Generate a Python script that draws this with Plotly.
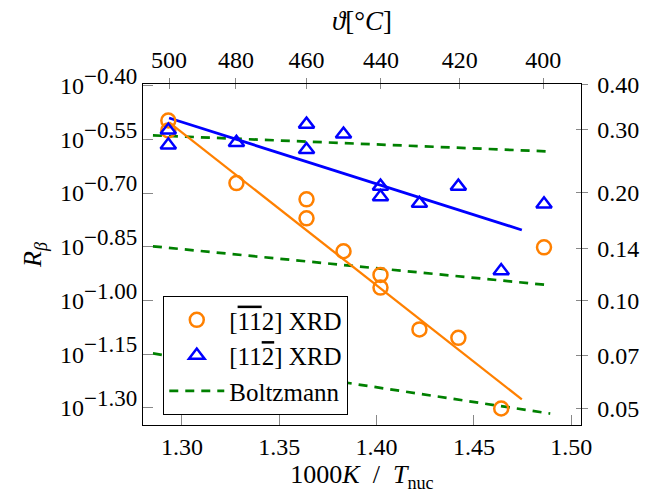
import plotly.graph_objects as go

# ---- data ----
x_orange = [1.293, 1.293, 1.328, 1.364, 1.364, 1.383, 1.402, 1.402, 1.422, 1.442, 1.464, 1.486]
r_orange = [0.318, 0.2985, 0.2127, 0.1916, 0.1695, 0.1372, 0.1178, 0.1086, 0.0830, 0.0786, 0.0499, 0.1407]

x_blue = [1.293, 1.293, 1.328, 1.364, 1.364, 1.383, 1.402, 1.402, 1.422, 1.442, 1.464, 1.486]
r_blue = [0.2988, 0.2716, 0.2761, 0.3105, 0.2636, 0.2913, 0.2084, 0.1947, 0.1866, 0.2084, 0.1210, 0.1858]

fit_x = [1.2934, 1.4746]
fit_orange = [0.3144, 0.0529]
fit_blue = [0.3233, 0.1573]

boltz_x = [1.2851, 1.4892]
boltz_1 = [0.2891, 0.2606]
boltz_2 = [0.1416, 0.1102]
boltz_3 = [0.0711, 0.0483]

x_ticks = [1.30, 1.35, 1.40, 1.45, 1.50]
x_ticktext = ["1.30", "1.35", "1.40", "1.45", "1.50"]
temp_ticks_c = [500, 480, 460, 440, 420, 400]
left_exps = [-0.40, -0.55, -0.70, -0.85, -1.00, -1.15, -1.30]
right_ticks = [0.40, 0.30, 0.20, 0.14, 0.10, 0.07, 0.05]
right_ticktext = ["0.40", "0.30", "0.20", "0.14", "0.10", "0.07", "0.05"]

ORANGE = "#ff8000"
BLUE = "#0000ff"
GREEN = "#008000"
FONT = "Liberation Serif"
FS = 24

fig = go.Figure()

for i, yb in enumerate([boltz_1, boltz_2, boltz_3]):
    fig.add_trace(go.Scatter(x=boltz_x, y=yb, mode="lines",
                             line=dict(color=GREEN, width=2.7, dash="9px,7px"),
                             name="Boltzmann", showlegend=(i == 0), legendrank=3))

fig.add_trace(go.Scatter(x=fit_x, y=fit_orange, mode="lines",
                         line=dict(color=ORANGE, width=2.3), showlegend=False))
fig.add_trace(go.Scatter(x=fit_x, y=fit_blue, mode="lines",
                         line=dict(color=BLUE, width=2.8), showlegend=False))

fig.add_trace(go.Scatter(x=x_orange, y=r_orange, mode="markers",
                         marker=dict(symbol="circle-open", size=14, color=ORANGE,
                                     line=dict(width=2.5, color=ORANGE)),
                         name='[<span style="text-decoration:overline">11</span>2] XRD',
                         legendrank=1))
fig.add_trace(go.Scatter(x=x_blue, y=r_blue, mode="markers",
                         marker=dict(symbol="triangle-up-open", size=13.5, color=BLUE,
                                     line=dict(width=2.5, color=BLUE)),
                         name='[11<span style="text-decoration:overline">2</span>] XRD',
                         legendrank=2))

# invisible copies so the secondary (top / right) axes get drawn
for xa, ya in [("x2", "y2"), ("x3", "y3")]:
    fig.add_trace(go.Scatter(x=x_blue, y=r_blue, mode="markers", xaxis=xa, yaxis=ya,
                             marker=dict(opacity=0), showlegend=False, hoverinfo="skip"))

xr = [1.28, 1.505]
yr = [-1.348, -0.3955]
temp_pos = [1000.0 / (t + 273.15) for t in temp_ticks_c]
temp_text = [str(t) for t in temp_ticks_c]
left_vals = [10 ** e for e in left_exps]
left_text = ['10<sup><span style="font-size:23px">\u2212%.2f</span></sup>' % (-e) for e in left_exps]

common = dict(showgrid=False, zeroline=False, tickcolor="#888888", tickwidth=1,
              tickfont=dict(family=FONT, size=FS, color="black"))

fig.update_layout(
    width=657, height=496,
    margin=dict(l=143, r=76, t=84, b=67),
    paper_bgcolor="white", plot_bgcolor="white",
    font=dict(family=FONT, size=FS, color="black"),
    showlegend=True,
    legend=dict(x=0.0463, y=0.378, xanchor="left", yanchor="top",
                bgcolor="white", bordercolor="black", borderwidth=1,
                font=dict(family=FONT, size=25), itemwidth=55,
                tracegroupgap=0),
    xaxis=dict(range=xr, tickvals=x_ticks, ticktext=x_ticktext, ticks="inside", ticklen=10,
               showline=True, linecolor="black", linewidth=1,
               title=dict(text="1000<i>K</i>\u2002/\u2002<i>T</i><sub>nuc</sub>", standoff=6,
                          font=dict(family=FONT, size=26)),
               **common),
    xaxis2=dict(range=xr, overlaying="x", side="top", anchor="y", tickvals=temp_pos, ticktext=temp_text,
                ticks="outside", ticklen=5, showline=True, linecolor="black", linewidth=1,
                title=dict(text="<i>\u03d1</i>[\u00b0<i>C</i>]", standoff=8,
                           font=dict(family=FONT, size=27)),
                **common),
    xaxis3=dict(range=xr, overlaying="x", side="top", anchor="y", tickvals=temp_pos, showticklabels=False,
                ticks="inside", ticklen=5, showline=False, **common),
    yaxis=dict(type="log", range=yr, tickvals=left_vals, ticktext=left_text, ticks="inside",
               ticklen=10, showline=True, linecolor="black", linewidth=1,
               title=dict(text="<i>R</i><sub><i>\u03b2</i></sub>", standoff=10,
                          font=dict(family=FONT, size=26)),
               **common),
    yaxis2=dict(type="log", range=yr, overlaying="y", side="right", anchor="x", tickvals=right_ticks,
                ticktext=right_ticktext, ticks="outside", ticklen=5.5, showline=True,
                linecolor="black", linewidth=1, ticklabelstandoff=5, **common),
    yaxis3=dict(type="log", range=yr, overlaying="y", side="right", anchor="x", tickvals=right_ticks,
                showticklabels=False, ticks="inside", ticklen=5.5, showline=False, **common),
)

fig.write_html("out.html")
